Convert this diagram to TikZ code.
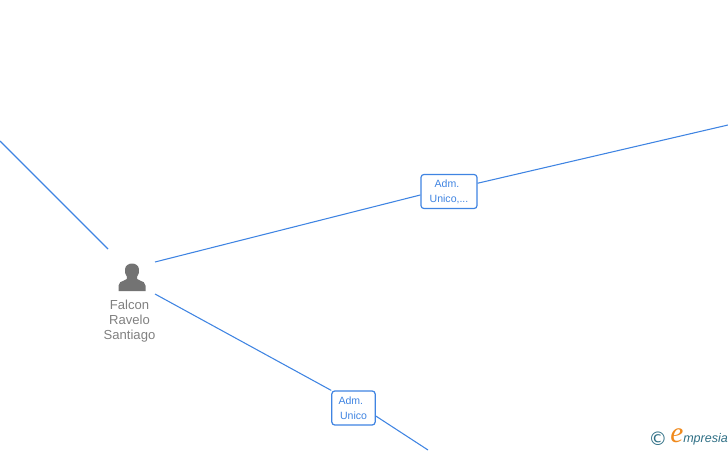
\documentclass[tikz,border=0pt]{standalone}
\usepackage{fontspec}
\setmainfont{Liberation Sans}
\newfontfamily\logoserif{Liberation Serif}
\newfontfamily\logofont{DejaVu Sans}
\definecolor{linkblue}{HTML}{3F84E2}
\definecolor{iconGray}{HTML}{737373}
\definecolor{labelGray}{HTML}{808080}
\definecolor{logoTeal}{HTML}{2F6F85}
\definecolor{logoOrange}{HTML}{F08A1D}
\tikzset{
  link/.style={draw=linkblue,line width=0.8pt},
  rolebox/.style={draw=linkblue,line width=0.9pt,rounded corners=2.2pt,fill=white,align=center,
    text=linkblue,font=\fontsize{7.9}{11.25}\selectfont,inner sep=0pt},
  personlabel/.style={text=labelGray,align=center,font=\fontsize{9.8}{11.25}\selectfont,inner sep=0pt}
}
\begin{document}
\begin{tikzpicture}[x=0.75pt,y=-0.75pt]
\useasboundingbox (0,0) rectangle (728,450);
% free ends
\coordinate (nw) at (0,141);
\coordinate (ne) at (728,125);
\coordinate (se) at (428,450);
\coordinate (pa) at (108,249);
\coordinate (pb) at (155,262);
\coordinate (pc) at (155,294);
% role boxes
\node[rolebox,minimum width=42pt,minimum height=25.5pt] (r1) at (449,191.5) {Adm.\rule{3pt}{0pt}\\Unico,...};
\node[rolebox,minimum width=32.5pt,minimum height=25.5pt] (r2) at (353.5,408) {Adm.\rule{4pt}{0pt}\\Unico};
\coordinate (r1in) at ([yshift=-2.6pt]r1.west);
\coordinate (r1out) at ([yshift=6.2pt]r1.east);
\coordinate (r2in) at (r2.north west);
\coordinate (r2out) at ([yshift=-6pt]r2.east);
% connectors
\draw[link] (nw) -- (pa);
\draw[link] (pb) -- (r1in);
\draw[link] (r1out) -- (ne);
\draw[link] (pc) -- (r2in);
\draw[link] (r2out) -- (se);
% person icon
\fill[iconGray] (118.5,291) -- (118.5,285.5) .. controls (118.5,282.5) and (121,281.5) .. (124,280.5)
  .. controls (127,279.5) and (127.5,278.5) .. (127,277) .. controls (125,274.5) and (124.5,271) .. (125,269)
  .. controls (125.5,265.5) and (128.5,263.5) .. (132,263.5) .. controls (135.5,263.5) and (138.5,265.5) .. (139,269)
  .. controls (139.5,271) and (139,274.5) .. (137,277) .. controls (136.5,278.5) and (137,279.5) .. (140,280.5)
  .. controls (143,281.5) and (145.5,282.5) .. (145.5,285.5) -- (145.5,291) -- cycle;
\node[personlabel] (person) at (129.5,321.5) {Falcon\\Ravelo\\Santiago};
% logo
\node[inner sep=0pt,text=logoTeal,font=\logofont\fontsize{14}{14}\selectfont] (copy) at (658,439) {©};
\node[inner sep=0pt,text=logoOrange,font=\logoserif\itshape\fontsize{22}{22}\selectfont] (elogo) at (677,436) {e};
\node[inner sep=0pt,anchor=west,text=logoTeal,font=\itshape\fontsize{9.4}{10}\selectfont] (mpresia) at (683,439) {mpresia};
\end{tikzpicture}
\end{document}
